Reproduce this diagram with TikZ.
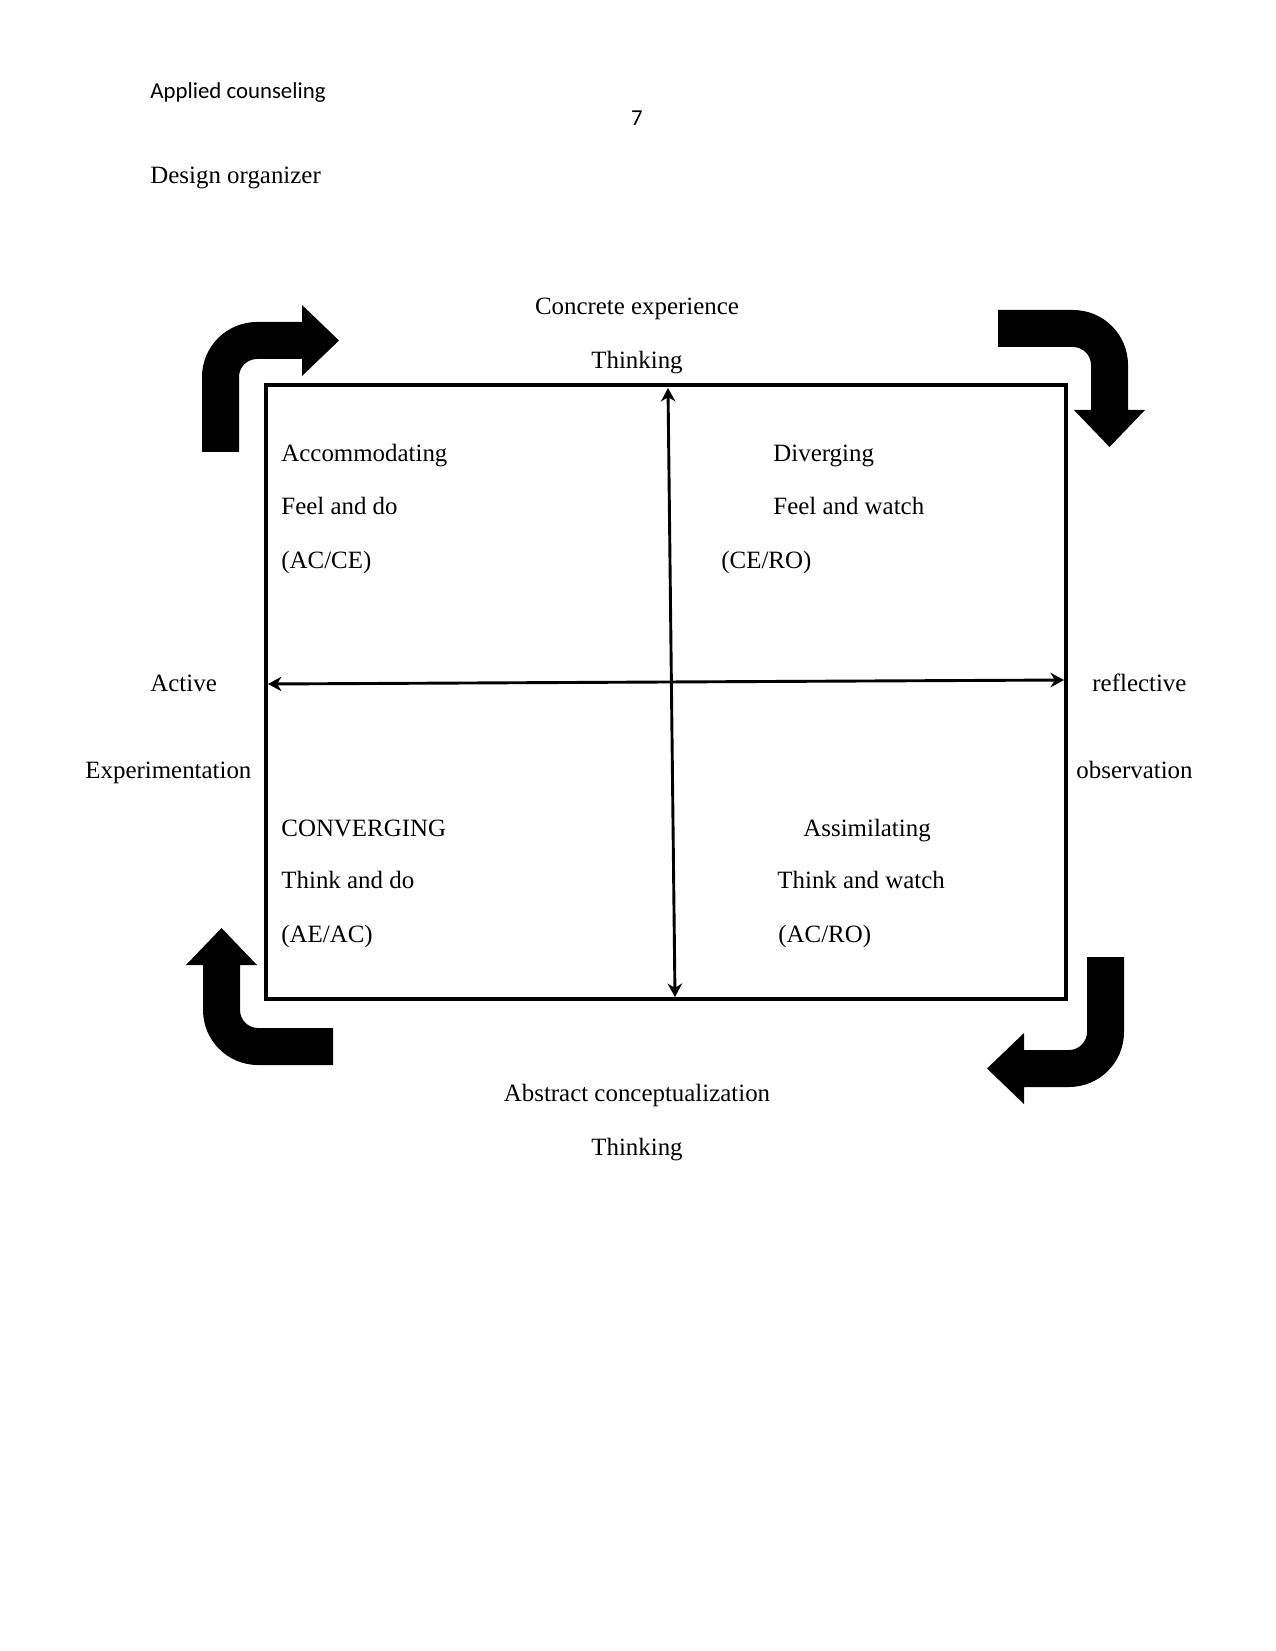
\documentclass[tikz,border=0pt]{standalone}
\usepackage{fontspec}
\setmainfont{Liberation Serif}
\newfontfamily\hdrfont{Carlito}
\usepackage{tikz}
\usetikzlibrary{
    positioning,
    arrows.meta
}

\begin{document}
\begin{tikzpicture}[
  x=0.4818pt, y=-0.4818pt,
  font=\fontsize{12}{14}\selectfont,
  >=Stealth,
  lbl/.style={inner sep=0pt, anchor=west, text height=8.5pt, text depth=0pt},
  ctr/.style={inner sep=0pt, text height=8.5pt, text depth=0pt},
  hdr/.style={inner sep=0pt, text height=9pt, text depth=0pt, font=\hdrfont\fontsize{11}{13}\selectfont},
  frame/.style={draw=black, line width=1.8pt},
  axis/.style={{Stealth[length=6.5pt,width=7pt]}-{Stealth[length=6.5pt,width=7pt]}, line width=1.4pt},
  bendarrow/.pic={
    \fill (0,130) -- (0,55) .. controls (0,24.6) and (24.6,0) .. (55,0)
      -- (100,0) -- (100,-17) -- (137,18.5) -- (100,54) -- (100,37) -- (55,37)
      .. controls (45.1,37) and (37,45.1) .. (37,55) -- (37,130) -- cycle;
  }
]
\useasboundingbox (0,0) rectangle (1275,1651);

% Page header
\node[hdr, anchor=west] (runhead) at (150,89) {Applied counseling};
\node[hdr] (pgno) at (637,116) {7};
\node[lbl] (title) at (150,175) {Design organizer};

% Quadrant frame and axes
\coordinate (nw) at (266,385);
\coordinate (se) at (1066,999);
\draw[frame] (nw) rectangle (se);
\coordinate (axtop) at (668,388);
\coordinate (axbot) at (675,997);
\coordinate (axleft) at (268,684);
\coordinate (axright) at (1064,680);
\draw[axis] (axtop) -- (axbot);
\draw[axis] (axleft) -- (axright);

% Cycle arrows
\pic at (202,322) {bendarrow};
\pic[rotate=-90] at (1128,310) {bendarrow};
\pic[rotate=180] at (1124,1087) {bendarrow};
\pic[rotate=90] at (203,1065) {bendarrow};

% Axis labels
\node[ctr] (ce) at (637,306) {Concrete experience};
\node[ctr] (cethink) at (637,360) {Thinking};
\node[ctr] (ac) at (637,1093) {Abstract conceptualization};
\node[ctr] (acthink) at (637,1147) {Thinking};
\node[lbl] (active) at (150,683) {Active};
\node[lbl] (experim) at (85,770) {Experimentation};
\node[lbl] (reflect) at (1092,683) {reflective};
\node[lbl] (observ) at (1076,770) {observation};

% Quadrant labels
\node[lbl] (accom) at (281,453) {Accommodating};
\node[lbl] (accom2) at (281,506) {Feel and do};
\node[lbl] (accom3) at (281,560) {(AC/CE)};
\node[lbl] (diverg) at (773,453) {Diverging};
\node[lbl] (diverg2) at (773,506) {Feel and watch};
\node[lbl] (diverg3) at (721,560) {(CE/RO)};
\node[lbl] (conver) at (281,828) {CONVERGING};
\node[lbl] (conver2) at (281,880) {Think and do};
\node[lbl] (conver3) at (281,934) {(AE/AC)};
\node[lbl] (assim) at (803,828) {Assimilating};
\node[lbl] (assim2) at (777,880) {Think and watch};
\node[lbl] (assim3) at (778,934) {(AC/RO)};

\end{tikzpicture}
\end{document}
